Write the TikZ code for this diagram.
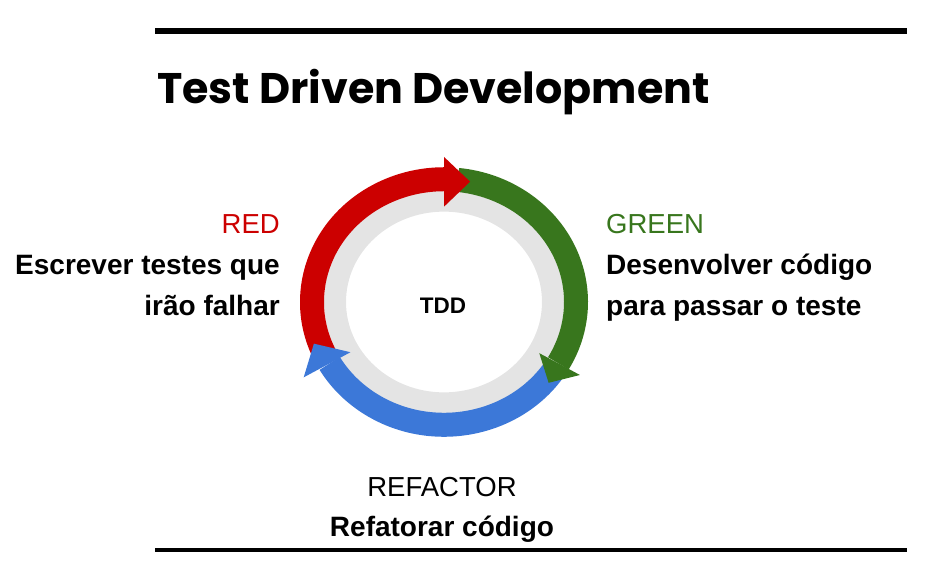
\documentclass[tikz,border=0pt]{standalone}
\usepackage{fontspec}
\setmainfont{Liberation Sans}
\newfontfamily\titlefont{Poppins}
\definecolor{tddred}{HTML}{CC0000}
\definecolor{tddgreen}{HTML}{38761D}
\definecolor{tddblue}{HTML}{3C78D8}
\definecolor{ringgray}{HTML}{E4E4E4}
\tikzset{
  rule/.style={line width=#1},
  band/.style={line width=24pt},
  head/.style={font=\fontsize{27.5}{32}\selectfont, inner sep=0pt},
  desc/.style={font=\fontsize{28}{41}\selectfont\bfseries, inner sep=0pt},
}
\begin{document}
\begin{tikzpicture}[x=1pt,y=1pt]
  \useasboundingbox (0,0) rectangle (928,582);
  \draw[rule=5.5pt] (155,551) -- (907,551);
  \draw[rule=4pt] (155,32) -- (907,32);
  \node[anchor=base west, inner sep=0pt, font=\titlefont\bfseries\fontsize{42.8}{48}\selectfont] (title) at (157,478.5) {Test Driven Development};
  \begin{scope}[shift={(444,280)},yscale=0.93]
    \draw[ringgray, line width=22pt] (0,0) circle[radius=109];
    \foreach \c/\a/\b in {tddblue/-33/-150, tddred/207/90, tddgreen/84/-30}
      \draw[band,\c] (\a:132) arc[start angle=\a, end angle=\b, radius=132];
    \foreach \c/\a/\ri/\ro/\t/\rt in {tddred/90/102.5/156/78.6/132, tddgreen/-30/110/157/-39.7/136, tddblue/210/108/162/199/137.6}
      \fill[\c] (\a:\ri) -- (\a:\ro) -- (\t:\rt) -- cycle;
  \end{scope}
  \node[anchor=base, inner sep=0pt, font=\fontsize{22.5}{26}\selectfont\bfseries] (tdd) at (443,269) {TDD};
  \node[head, tddred, anchor=base east] (red) at (280,349) {RED};
  \node[desc, align=right, anchor=base east] (redtxt) at (280,267) {Escrever testes que\\irão falhar};
  \node[head, tddgreen, anchor=base west] (green) at (606,349) {GREEN};
  \node[desc, align=left, anchor=base west] (greentxt) at (606,267) {Desenvolver código\\para passar o teste};
  \node[head, anchor=base] (refactor) at (442,86) {REFACTOR};
  \node[desc, anchor=base] (refactortxt) at (442,46) {Refatorar código};
\end{tikzpicture}
\end{document}
